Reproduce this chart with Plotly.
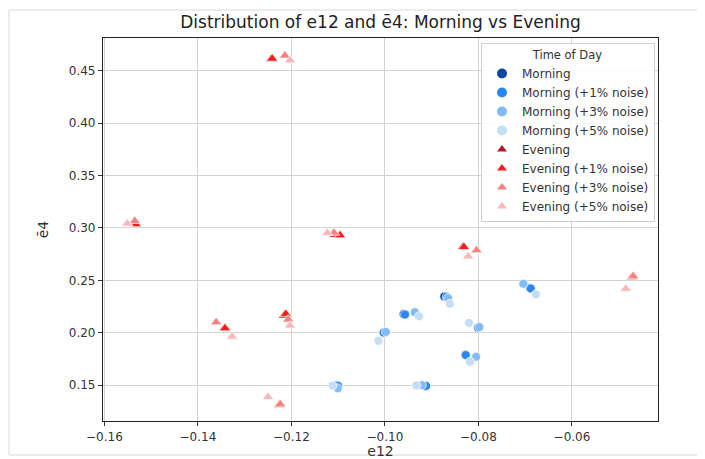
import plotly.graph_objects as go

# Morning points (original + noisy versions)
morning_x = [-0.0960, -0.1000, -0.0873, -0.0690, -0.0800, -0.0828, -0.1102, -0.0913]
morning_y = [0.2178, 0.2005, 0.2346, 0.2428, 0.2052, 0.1790, 0.1498, 0.1490]
morning1_x = [-0.0957, -0.1003, -0.0868, -0.0688, -0.0801, -0.0827, -0.1100, -0.0912]
morning1_y = [0.2174, 0.2002, 0.2342, 0.2422, 0.2048, 0.1787, 0.1493, 0.1493]
morning3_x = [-0.0936, -0.0998, -0.0865, -0.0704, -0.0798, -0.0805, -0.1101, -0.0921]
morning3_y = [0.2196, 0.2008, 0.2330, 0.2468, 0.2054, 0.1771, 0.1470, 0.1500]
morning5_x = [-0.0927, -0.1014, -0.0861, -0.0677, -0.0820, -0.0818, -0.1112, -0.0933]
morning5_y = [0.2157, 0.1924, 0.2276, 0.2365, 0.2094, 0.1723, 0.1495, 0.1497]

# Evening points (original + noisy versions)
evening_x = [-0.1243, -0.1534, -0.1107, -0.0833, -0.0470, -0.1216, -0.1343, -0.1225]
evening_y = [0.4614, 0.3040, 0.2935, 0.2822, 0.2535, 0.2164, 0.2045, 0.1315]
evening1_x = [-0.1241, -0.1533, -0.1096, -0.0831, -0.0472, -0.1212, -0.1342, -0.1226]
evening1_y = [0.4616, 0.3036, 0.2930, 0.2818, 0.2531, 0.2180, 0.2042, 0.1311]
evening3_x = [-0.1214, -0.1535, -0.1109, -0.0804, -0.0469, -0.1207, -0.1361, -0.1224]
evening3_y = [0.4645, 0.3067, 0.2955, 0.2787, 0.2540, 0.2126, 0.2100, 0.1318]
evening5_x = [-0.1203, -0.1551, -0.1123, -0.0822, -0.0485, -0.1203, -0.1327, -0.1250]
evening5_y = [0.4600, 0.3042, 0.2952, 0.2729, 0.2420, 0.2068, 0.1963, 0.1388]

x_ticks = [-0.16, -0.14, -0.12, -0.10, -0.08, -0.06]
x_tick_labels = ["\u22120.16", "\u22120.14", "\u22120.12", "\u22120.10", "\u22120.08", "\u22120.06"]
y_ticks = [0.15, 0.20, 0.25, 0.30, 0.35, 0.40, 0.45]

series = [
    ("Morning", morning_x, morning_y, "circle", "#0b46a6", 9),
    ("Morning (+1% noise)", morning1_x, morning1_y, "circle", "#2a86f4", 9),
    ("Morning (+3% noise)", morning3_x, morning3_y, "circle", "#82bcf6", 9),
    ("Morning (+5% noise)", morning5_x, morning5_y, "circle", "#c4def7", 9),
    ("Evening", evening_x, evening_y, "triangle-up", "#b3191e", 10),
    ("Evening (+1% noise)", evening1_x, evening1_y, "triangle-up", "#f51c1c", 10),
    ("Evening (+3% noise)", evening3_x, evening3_y, "triangle-up", "#f78080", 10),
    ("Evening (+5% noise)", evening5_x, evening5_y, "triangle-up", "#f9b7b7", 10),
]

fig = go.Figure()
for name, xs, ys, sym, col, sz in series:
    fig.add_trace(go.Scatter(
        x=xs, y=ys, mode="markers", name=name,
        marker=dict(symbol=sym, color=col, size=sz,
                    line=dict(color="white", width=0.7)),
    ))

font = "DejaVu Sans, Liberation Sans, sans-serif"
axis_common = dict(
    showgrid=True, gridcolor="#d3d3d3", gridwidth=1.3,
    showline=True, linecolor="#222", linewidth=1.2, mirror=True,
    ticks="outside", ticklen=4, tickcolor="#333",
    tickfont=dict(size=12, color="#333"), zeroline=False,
)
fig.update_xaxes(range=[-0.1603, -0.0416], tickvals=x_ticks, ticktext=x_tick_labels,
                 title=dict(text="e12", font=dict(size=14, color="#333"), standoff=2), **axis_common)
fig.update_yaxes(range=[0.1158, 0.4813], tickvals=y_ticks, tickformat=".2f",
                 title=dict(text="ē4", font=dict(size=14, color="#333"), standoff=16), **axis_common)

# page is offset by the 8px body margin
W, H = 705, 459
L, R, T, B = 95, 55, 30, 46
pw, ph = W - L - R, H - T - B
fig.add_shape(type="rect", xref="paper", yref="paper",
              x0=(1 - L) / pw, x1=(692 - L) / pw,
              y0=(H - B - 447) / ph, y1=(H - B - 2) / ph,
              line=dict(color="#d9d9d9", width=1), fillcolor="rgba(0,0,0,0)", layer="below")

fig.update_layout(
    width=W, height=H,
    margin=dict(l=L, r=R, t=T, b=B),
    paper_bgcolor="white", plot_bgcolor="white",
    font=dict(family=font, color="#333"),
    title=dict(text="Distribution of e12 and ē4: Morning vs Evening",
               x=(L + pw / 2) / W, xanchor="center", y=1 - 14 / H, yanchor="middle",
               font=dict(size=17, color="#222")),
    legend=dict(
        title=dict(text="Time of Day", side="top center", font=dict(size=11.5)),
        x=1 - 3 / pw, xanchor="right", y=1 - 5 / ph, yanchor="top",
        bgcolor="rgba(255,255,255,0.85)", bordercolor="#d0d0d0", borderwidth=1,
        font=dict(size=12, color="#333"), tracegroupgap=0, itemsizing="constant",
    ),
    showlegend=True,
)

fig.write_html("out.html")
